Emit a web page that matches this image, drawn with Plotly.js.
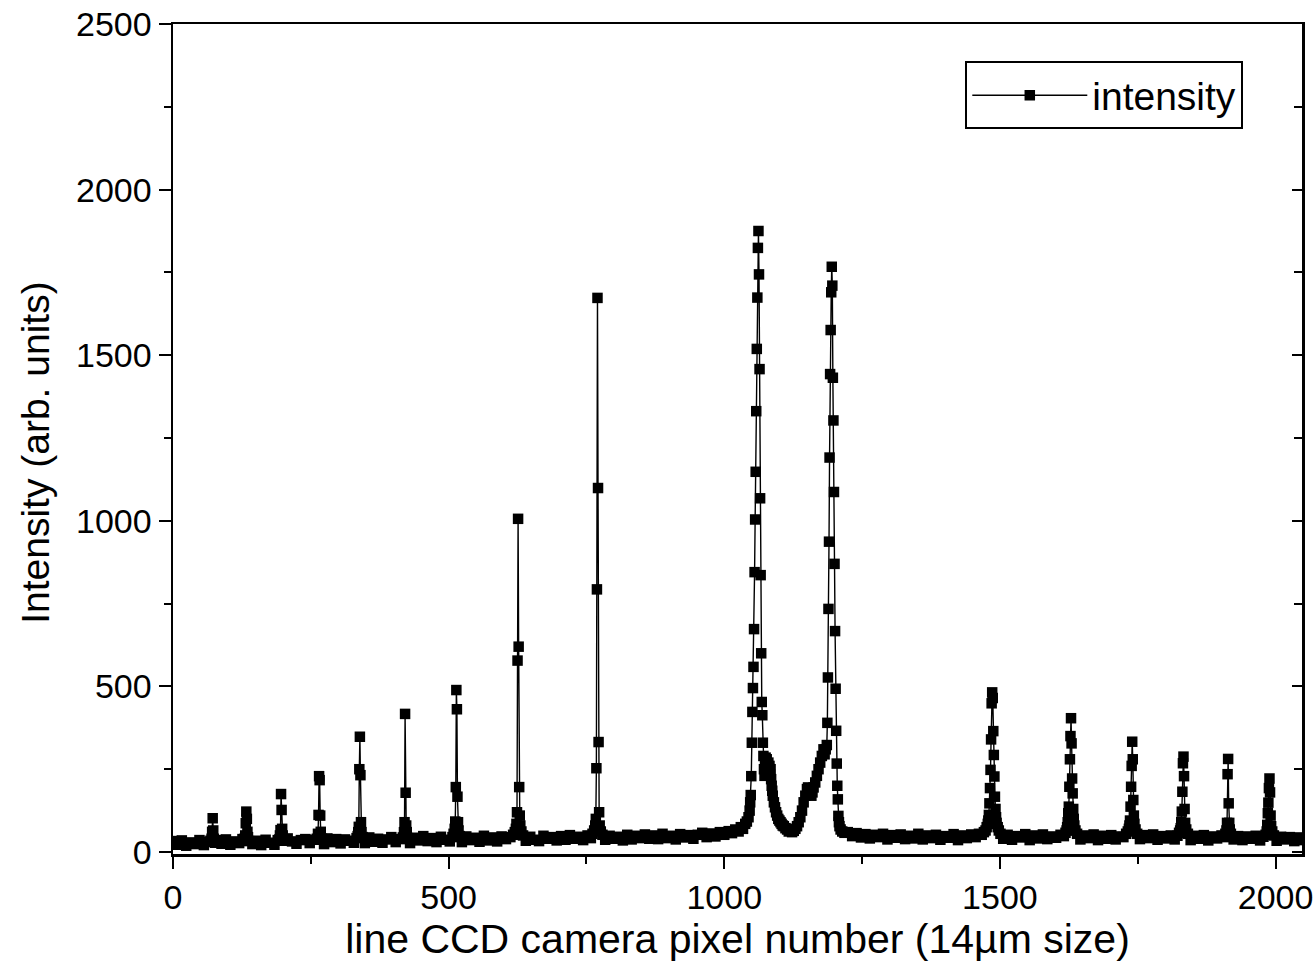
<!DOCTYPE html>
<html>
<head>
<meta charset="utf-8">
<script src="https://cdn.plot.ly/plotly-3.0.1.min.js"></script>
<style>html,body{margin:0;padding:0;background:#fff;}#chart{width:1315px;height:964px;}</style>
</head>
<body>
<div id="chart"></div>
<script>
// ---- data (pixel number vs intensity) ----
// Region 1: pixels 0 - 1048 (baseline and the sharp lines up to pixel ~770)
const pixel1 = [0,8,16,24,32,40,48,56,64,
 68,70,71,72,73,74,76,
 80,88,96,104,112,120,126,
 130,131,132,133,134,135,136,138,
 144,152,160,168,176,184,190,
 193,194,195,196,197,198,199,201,
 208,216,224,232,240,248,256,
 261,263,264,265,266,267,268,270,
 274,280,288,296,304,312,320,328,
 333,335,336,337,338,339,340,341,342,344,
 348,356,364,372,380,388,396,404,412,
 417,419,420,421,422,423,424,426,
 430,438,446,454,462,470,478,486,494,502,
 507,509,511,512,513,514,515,516,517,518,520,
 524,532,540,548,556,564,572,580,588,596,604,612,
 617,620,622,623,624,625,626,627,628,629,630,632,635,
 640,648,656,664,672,680,688,696,704,712,720,728,736,744,752,758,
 761,764,766,767,768,769,770,771,772,773,774,776,779,
 784,792,800,808,816,824,832,840,848,856,864,872,880,888,896,904,912,920,928,936,944,952,960,968,976,984,992,1000,1008,1014,1020,1026,1030,1034,1038,1041,1044,1046,1047,1048];
const intensity1 = [33,22,35,19,29,24,36,21,31,
 34,40,61,102,65,40,28,
 36,25,38,22,32,27,39,
 40,50,87,122,100,61,45,33,
 24,34,21,37,28,22,36,
 38,50,66,175,127,70,50,34,
 41,32,25,36,39,27,37,
 40,55,112,229,217,110,61,40,
 24,41,30,39,26,38,34,28,
 42,48,60,76,250,348,232,90,60,45,
 27,44,31,40,28,38,45,30,39,
 44,60,90,417,179,80,60,42,
 27,43,35,48,33,42,30,46,37,32,
 45,55,70,92,196,489,431,167,90,65,48,
 30,47,36,43,31,49,35,44,32,47,39,45,
 52,60,70,85,120,578,1006,620,196,110,80,62,50,
 34,46,37,33,49,40,45,35,48,37,51,40,46,36,50,42,
 55,65,80,100,253,793,1673,1099,332,120,80,62,52,
 37,49,40,46,35,52,38,49,42,53,40,50,39,55,42,49,38,54,44,51,40,52,58,45,56,47,60,52,63,57,68,62,75,70,85,92,105,125,150,172];

// Region 2: the strong doublet, pixels 1049 - 1218
const pixel2 = [1049,1050,1051,1052,1053,1054,1055,1056,1057,1058,1059,1060,1061,1062,1063,1064,1065,1066,1067,1068,1069,1070,
 1071,1072,1073,1074,1075,1076,1077,1078,1079,1080,1081,1082,1083,1084,1085,1086,1087,1088,1090,1092,1094,1096,1098,1100,1102,1104,1106,1108,
 1111,1114,1117,1120,1123,1126,1129,1132,1135,1138,1141,1144,1147,1150,1152,1154,1156,1158,1160,1162,1165,1168,1171,1174,1177,1180,1182,1184,
 1186,1187,1188,1189,1190,1191,1192,1193,1194,1195,1196,1197,1198,1199,1200,1201,1202,1203,1204,1205,1206,1207,1208,1209,1211,1214,1218];
const intensity2 = [229,330,423,495,559,673,845,1004,1148,1331,1519,1674,1824,1875,1744,1458,1068,836,600,453,413,330,
 290,250,230,270,285,260,280,255,240,270,250,260,235,250,220,200,185,170,150,135,120,110,100,95,90,85,80,78,
 72,68,62,66,60,64,70,78,90,105,125,150,170,190,195,185,175,170,180,195,210,230,250,270,290,310,295,310,
 323,390,527,734,937,1191,1443,1576,1690,1767,1710,1432,1303,1087,870,667,493,366,267,200,159,109,90,78,68,62,58];

// Region 3: pixels 1224 - 2048 (baseline and the weaker lines)
const pixel3 = [1224,1232,1240,1248,1256,1264,1272,1280,1288,1296,1304,1312,1320,1328,1336,1344,1352,1360,1368,1376,1384,1392,1400,1408,1416,1424,1432,1440,1448,1456,1462,1467,1471,
 1474,1476,1478,1479,1480,1481,1482,1483,1484,1485,1486,1487,1488,1489,1490,1491,1492,1493,1494,1496,1498,1501,
 1506,1514,1522,1530,1538,1546,1554,1562,1570,1578,1586,1594,1602,1610,1616,
 1619,1621,1622,1623,1624,1625,1626,1627,1628,1629,1630,1631,1632,1633,1634,1635,1637,1640,
 1646,1654,1662,1670,1678,1686,1694,1702,1710,1718,1724,1729,
 1732,1734,1735,1736,1737,1738,1739,1740,1741,1742,1743,1744,1746,1749,
 1754,1762,1770,1778,1786,1794,1802,1810,1817,1822,
 1825,1827,1828,1829,1830,1831,1832,1833,1834,1835,1836,1838,1841,
 1846,1854,1862,1870,1878,1886,1894,1902,1907,
 1909,1911,1912,1913,1914,1915,1916,1917,1919,
 1924,1932,1940,1948,1956,1964,1972,1978,1982,
 1984,1985,1986,1987,1988,1989,1990,1991,1992,1994,1997,
 2002,2010,2018,2026,2034,2042,2048];
const intensity3 = [60,48,57,44,54,41,52,45,55,38,51,43,53,39,49,41,55,38,50,42,52,37,48,43,54,36,50,42,53,45,55,52,60,
 65,75,85,95,112,147,193,248,340,449,482,465,365,293,228,167,130,105,88,75,65,55,
 40,52,37,48,44,54,36,50,41,53,39,47,43,52,48,
 58,65,75,90,117,137,197,280,350,404,328,222,177,130,100,80,65,55,
 38,50,42,53,36,49,40,51,38,47,45,55,
 62,70,80,95,137,197,260,333,280,157,110,85,68,55,
 39,51,42,53,37,48,41,50,38,49,
 58,65,72,90,122,182,268,288,229,130,88,68,55,
 36,49,40,51,35,47,41,50,45,
 55,65,88,235,281,147,88,68,55,
 38,48,36,47,40,49,35,46,52,
 62,82,117,149,193,222,180,110,78,62,50,
 34,46,38,45,33,44,36];

const seriesName = "intensity";
const xTitle = "line CCD camera pixel number (14µm size)";
const yTitle = "Intensity (arb. units)";
const xTickVals = [0, 500, 1000, 1500, 2000];
const yTickVals = [0, 500, 1000, 1500, 2000, 2500];

const xs = pixel1.concat(pixel2, pixel3);
const ys = intensity1.concat(intensity2, intensity3);

const FONT = "Arial, 'Liberation Sans', sans-serif";

const trace = {
  x: xs, y: ys, type: "scatter", mode: "lines+markers", name: seriesName,
  line: {color: "#000", width: 1.4},
  marker: {symbol: "square", size: 10.5, color: "#000"},
  hoverinfo: "x+y"
};
const dummy = {x: [], y: [], xaxis: "x2", yaxis: "y2", type: "scatter", mode: "markers", showlegend: false, hoverinfo: "skip"};

const axBase = {
  showgrid: false, zeroline: false, showline: true, linecolor: "#000", linewidth: 2.5,
  tickcolor: "#000", tickwidth: 2, tickfont: {family: FONT, size: 34, color: "#000"}
};

const layout = {
  width: 1315, height: 964,
  margin: {l: 173, r: 13, t: 24, b: 110},
  paper_bgcolor: "#fff", plot_bgcolor: "#fff",
  font: {family: FONT, color: "#000"},
  showlegend: true,
  legend: {
    x: 0.948, y: 0.955, xanchor: "right", yanchor: "top",
    bordercolor: "#000", borderwidth: 2, bgcolor: "#fff",
    font: {family: FONT, size: 39, color: "#000"},
    itemwidth: 115, tracegroupgap: 0
  },
  annotations: [{
    text: yTitle, textangle: -90, xref: "paper", yref: "paper",
    x: -0.1225, y: 0.483, xanchor: "center", yanchor: "middle", showarrow: false,
    font: {family: FONT, size: 39, color: "#000"}
  }],
  xaxis: Object.assign({}, axBase, {
    range: [0, 2048], tickmode: "array", tickvals: xTickVals, ticks: "outside", ticklen: 12,
    mirror: true,
    minor: {ticks: "outside", dtick: 250, tick0: 0, ticklen: 7, tickwidth: 2, tickcolor: "#000", showgrid: false},
    title: {text: xTitle, font: {family: FONT, size: 41, color: "#000"}, standoff: 4}
  }),
  yaxis: Object.assign({}, axBase, {
    range: [-6, 2500], tickmode: "array", tickvals: yTickVals, ticks: "outside", ticklen: 12,
    mirror: true,
    minor: {ticks: "outside", dtick: 250, tick0: 0, ticklen: 7, tickwidth: 2, tickcolor: "#000", showgrid: false}
  }),
  xaxis2: {overlaying: "x", anchor: "y2", side: "bottom", range: [0, 2048], showgrid: false, zeroline: false,
    showline: false, showticklabels: false, ticks: "", visible: false},
  yaxis2: {overlaying: "y", anchor: "x2", side: "right", range: [-6, 2500], showgrid: false, zeroline: false,
    showline: false, showticklabels: false, tickmode: "array", tickvals: yTickVals, ticks: "inside", ticklen: 10,
    tickwidth: 2, tickcolor: "#000",
    minor: {ticks: "inside", dtick: 250, tick0: 0, ticklen: 8, tickwidth: 2, tickcolor: "#000", showgrid: false}}
};

Plotly.newPlot("chart", [trace, dummy], layout, {displayModeBar: false, staticPlot: true});
</script>
</body>
</html>
